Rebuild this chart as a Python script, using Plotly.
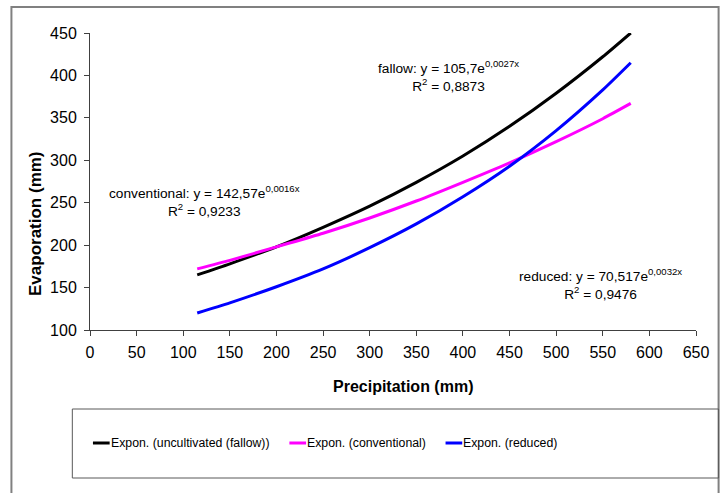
import plotly.graph_objects as go

precip = [115, 150, 200, 250, 300, 350, 400, 450, 500, 550, 580]
fallow = [165, 178, 198, 221, 246, 274, 305, 340, 379, 422, 450]
conventional = [172, 182, 198, 214, 232, 252, 274, 297, 322, 349, 367]
reduced = [120, 132, 151, 172, 197, 225, 257, 293, 335, 383, 415]

series_names = ["Expon. (uncultivated (fallow))", "Expon. (conventional)", "Expon. (reduced)"]
series_colors = ["#000000", "#ff00ff", "#0000ff"]
x_ticks = list(range(0, 651, 50))
y_ticks = list(range(100, 451, 50))

FONT = "Liberation Sans, Arial, sans-serif"

W, H = 721, 493
L, R, T, B = 90, 14, 33, 163
PW = W - L - R
PH = H - T - B


def px(x):
    return (x - L) / PW


def py(y):
    return (H - B - y) / PH


fig = go.Figure()
for name, vals, col in zip(series_names, [fallow, conventional, reduced], series_colors):
    fig.add_trace(go.Scatter(x=precip, y=vals, name=name, mode="lines",
                             line=dict(color=col, width=3, shape="spline", smoothing=0.6),
                             showlegend=False))

shapes = []
# outer chart border
shapes.append(dict(type="rect", xref="paper", yref="paper",
                   x0=px(10), x1=px(730), y0=py(510), y1=py(7),
                   line=dict(color="#808080", width=2), fillcolor="rgba(0,0,0,0)", layer="below"))
# legend box
shapes.append(dict(type="rect", xref="paper", yref="paper",
                   x0=px(72), x1=px(730), y0=py(478), y1=py(409),
                   line=dict(color="#595959", width=1), fillcolor="rgba(0,0,0,0)"))

annotations = []
# manual legend
leg_x = [93, 293, 452]
for lx, name, col in zip(leg_x, series_names, series_colors):
    shapes.append(dict(type="line", xref="paper", yref="paper",
                       x0=px(lx), x1=px(lx + 17), y0=py(443), y1=py(443),
                       line=dict(color=col, width=3)))
    annotations.append(dict(text=name, xref="paper", yref="paper", x=px(lx + 16), y=py(443),
                            xanchor="left", yanchor="middle", showarrow=False,
                            font=dict(family=FONT, size=12.3, color="#000000")))

# equation labels
eqs = [
    ("fallow: y = 105,7e<sup>0,0027x</sup><br>R<sup>2</sup> = 0,8873", 455, 76),
    ("conventional: y = 142,57e<sup>0,0016x</sup><br>R<sup>2</sup> = 0,9233", 207, 201),
    ("reduced: y = 70,517e<sup>0,0032x</sup><br>R<sup>2</sup> = 0,9476", 610, 284),
]
for txt, ex, ey in eqs:
    annotations.append(dict(text=txt, xref="paper", yref="paper", x=px(ex), y=py(ey),
                            xanchor="center", yanchor="middle", align="center", showarrow=False,
                            font=dict(family=FONT, size=13.7, color="#000000")))

# axis titles
annotations.append(dict(text="<b>Precipitation (mm)</b>", xref="paper", yref="paper",
                        x=px(409), y=py(386), xanchor="center", yanchor="middle", showarrow=False,
                        font=dict(family=FONT, size=16, color="#000000")))
annotations.append(dict(text="<b>Evaporation (mm)</b>", xref="paper", yref="paper",
                        x=px(34), y=py(223), xanchor="center", yanchor="middle", showarrow=False,
                        textangle=-90, font=dict(family=FONT, size=17, color="#000000")))

fig.update_layout(
    width=W, height=H,
    margin=dict(l=L, r=R, t=T, b=B, pad=0),
    paper_bgcolor="white", plot_bgcolor="white",
    font=dict(family=FONT, size=16, color="#000000"),
    shapes=shapes, annotations=annotations,
    showlegend=False,
)
fig.update_xaxes(range=[0, 650], tickvals=x_ticks, ticktext=[str(v) for v in x_ticks],
                 showgrid=False, zeroline=False, showline=True, linecolor="#404040", linewidth=1,
                 ticks="outside", ticklen=5, tickcolor="#404040", ticklabelstandoff=3,
                 tickfont=dict(family=FONT, size=16, color="#000000"))
fig.update_yaxes(range=[100, 450], tickvals=y_ticks, ticktext=[str(v) for v in y_ticks],
                 showgrid=False, zeroline=False, showline=True, linecolor="#404040", linewidth=1,
                 ticks="outside", ticklen=5, tickcolor="#404040", ticklabelstandoff=4,
                 tickfont=dict(family=FONT, size=16, color="#000000"))

fig.write_html("out.html")
